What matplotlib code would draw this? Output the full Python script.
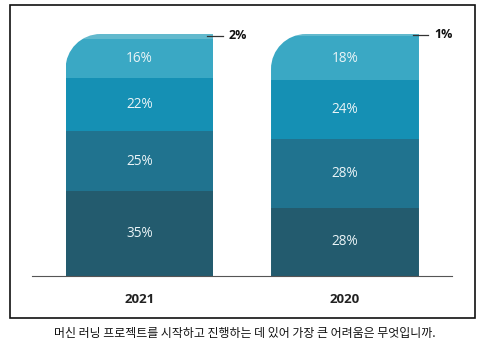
import matplotlib
matplotlib.use("Agg")
import matplotlib.pyplot as plt
import numpy as np
from matplotlib.path import Path
from matplotlib.patches import PathPatch, Rectangle

years = ["2021", "2020"]
# segments from bottom to top
seg_2021 = [35, 25, 22, 16, 2]
seg_2020 = [28, 28, 24, 18, 1]
seg_colors = ["#235b6e", "#20738f", "#1590b4", "#3aa8c4", "#62b9cd"]
caption = "머신 러닝 프로젝트를 시작하고 진행하는 데 있어 가장 큰 어려움은 무엇입니까."

W, H = 493, 356
fig = plt.figure(figsize=(W / 100, H / 100), dpi=100)

# axes placement in pixels
ax_l, ax_r, ax_b, ax_t = 32, 452, 276, 34
ax = fig.add_axes([ax_l / W, (H - ax_b) / H, (ax_r - ax_l) / W, (ax_b - ax_t) / H])

px_per_unit = 205.5
xmin = -(139.5 - ax_l) / px_per_unit
xmax = xmin + (ax_r - ax_l) / px_per_unit
ax.set_xlim(xmin, xmax)
ax.set_ylim(0, 100)

bar_w = 0.72
data = [seg_2021, seg_2020]
x = np.arange(len(years))

rx = 35 / px_per_unit
ry = 35 / (ax_b - ax_t) * 100
k = 0.5523

for i, segs in enumerate(data):
    total = sum(segs)
    top = 100.0
    x0 = x[i] - bar_w / 2
    x1 = x[i] + bar_w / 2
    verts = [(x0, 0), (x0, top - ry),
             (x0, top - ry + k * ry), (x0 + rx - k * rx, top), (x0 + rx, top),
             (x1, top), (x1, 0), (x0, 0)]
    codes = [Path.MOVETO, Path.LINETO, Path.CURVE4, Path.CURVE4, Path.CURVE4,
             Path.LINETO, Path.LINETO, Path.CLOSEPOLY]
    clip = PathPatch(Path(verts, codes), transform=ax.transData, facecolor="none", edgecolor="none")
    ax.add_patch(clip)
    bottom = 0
    scale = 100.0 / total
    for j, v in enumerate(segs):
        h = v * scale
        bars = ax.bar(x[i], h, bottom=bottom, width=bar_w, color=seg_colors[j], linewidth=0)
        for b in bars:
            b.set_clip_path(clip)
        if j < len(segs) - 1:
            ax.text(x[i], bottom + h / 2, f"{v}%", ha="center", va="center",
                    color="#eaf4f7", fontsize=9.8, family="Open Sans")
        else:
            yc = bottom + h / 2
            ax.plot([x1 - 0.03, x1 + 0.045], [yc, yc], color="#333333", lw=0.9,
                    clip_on=False)
            ax.text(x1 + 0.075, yc + 0.3, f"{v}%", ha="left", va="center",
                    color="#111111", fontsize=9, fontweight="bold", family="Open Sans")
        bottom += h

ax.set_xticks(x)
ax.set_xticklabels(years, fontsize=9.5, fontweight="bold", family="Open Sans", color="#222222")
ax.tick_params(axis="x", length=0, pad=12)
ax.set_yticks([])
for s in ["top", "left", "right"]:
    ax.spines[s].set_visible(False)
ax.spines["bottom"].set_color("#555555")
ax.spines["bottom"].set_linewidth(0.8)
ax.set_facecolor("none")

# outer border
fig.patches.append(Rectangle((10 / W, (H - 318) / H), (475 - 10) / W, (318 - 5) / H,
                             transform=fig.transFigure, fill=False, edgecolor="#111111",
                             linewidth=1.2))

fig.text(245 / W, (H - 333) / H, caption, ha="center", va="center", fontsize=8.6,
         fontweight="medium", family=["Noto Sans CJK KR", "DejaVu Sans"], color="#111111")

fig.savefig("out.png", dpi=100)
